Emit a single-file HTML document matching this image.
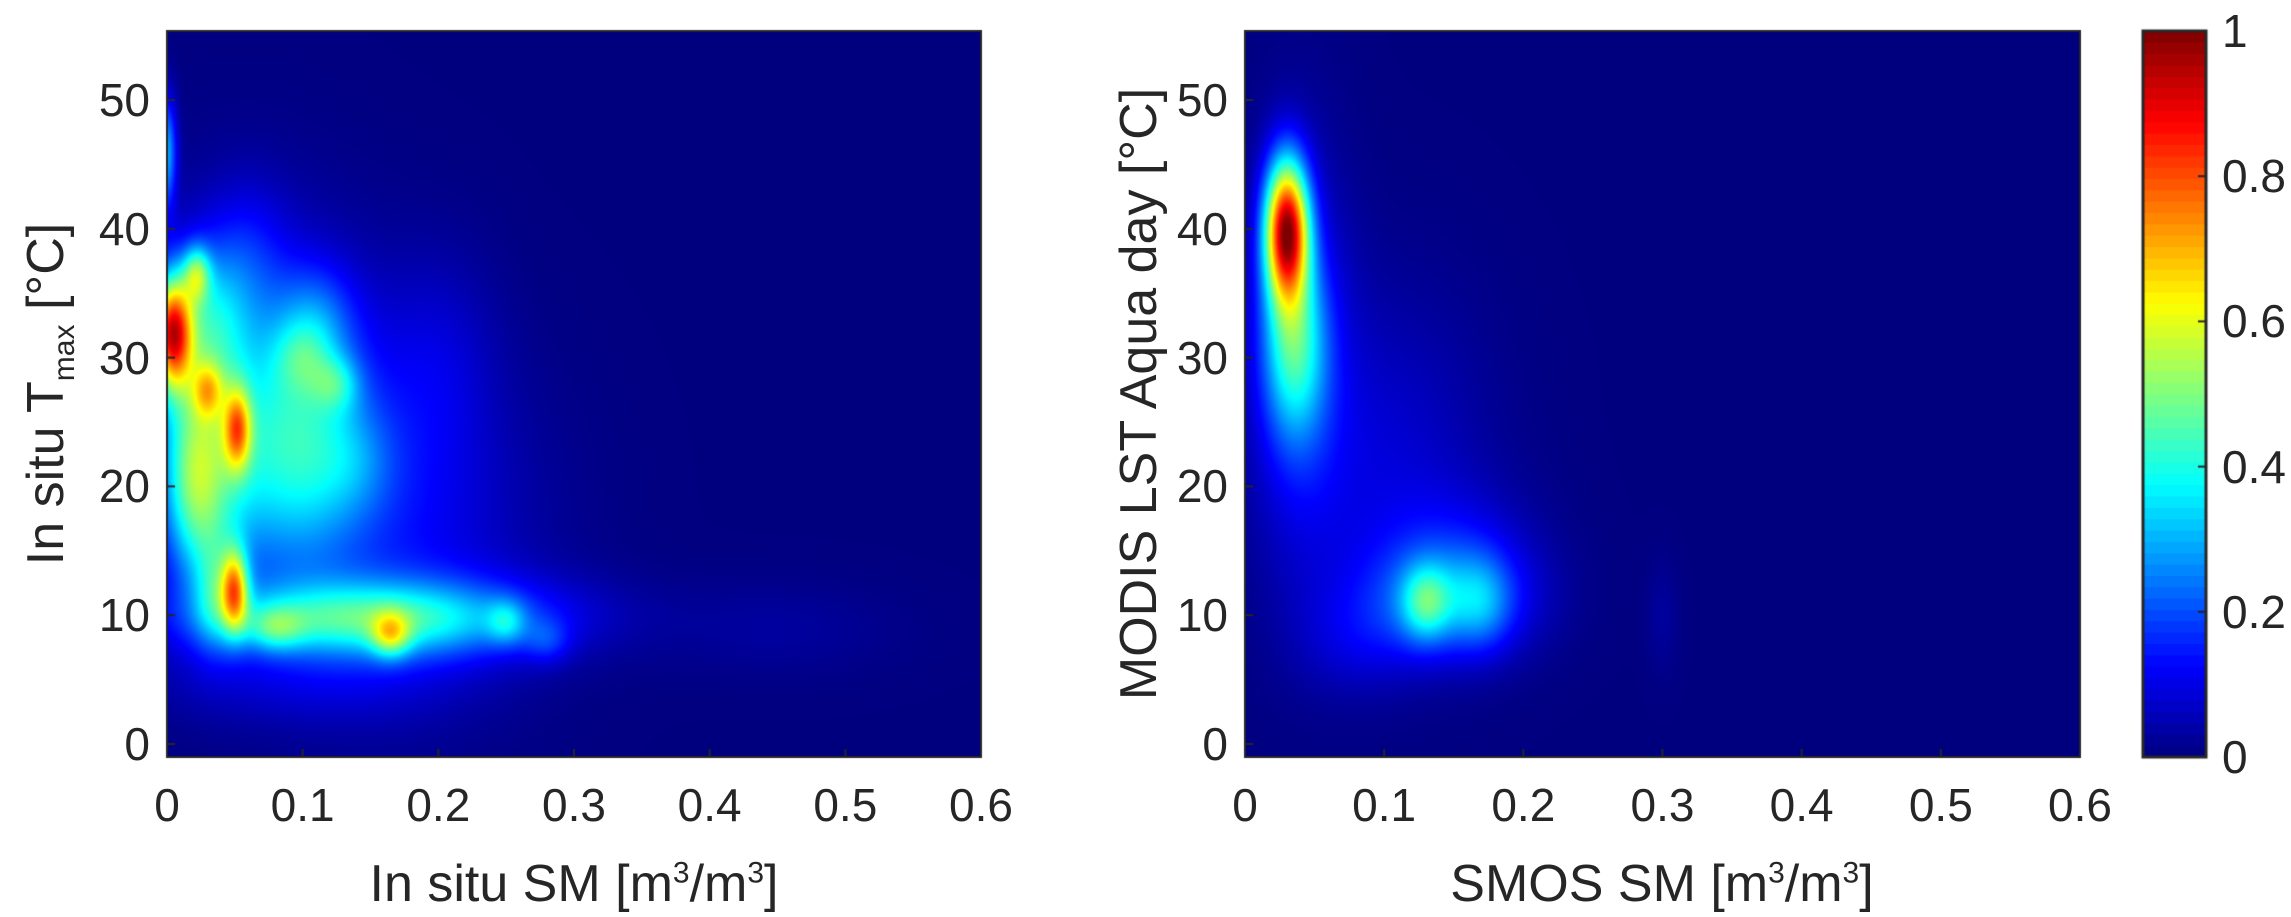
<!DOCTYPE html>
<html><head><meta charset="utf-8"><style>
html,body{margin:0;padding:0;background:#fff;}
body{width:2291px;height:917px;position:relative;overflow:hidden;font-family:"Liberation Sans",Arial,sans-serif;color:#262626;}
canvas{position:absolute;}
.t{position:absolute;font-size:46px;line-height:1;white-space:nowrap;}
.ttl{position:absolute;font-size:52px;line-height:1;white-space:nowrap;}
sup,sub{font-size:30px;}
</style></head><body>
<canvas id="c" width="2291" height="917"></canvas>
<div id="labels"></div>
<div class="ttl" style="left:574px;top:858px;transform:translateX(-50%);">In situ SM [m<sup>3</sup>/m<sup>3</sup>]</div>
<div class="ttl" style="left:1662px;top:858px;transform:translateX(-50%);">SMOS SM [m<sup>3</sup>/m<sup>3</sup>]</div>
<div class="ttl" style="left:50px;top:394px;transform:translate(-50%,-50%) rotate(-90deg);">In situ T<sub>max</sub> [°C]</div>
<div class="ttl" style="left:1139px;top:394px;transform:translate(-50%,-50%) rotate(-90deg);">MODIS LST Aqua day [°C]</div>
<script>
// data
const xTicks=[0,0.1,0.2,0.3,0.4,0.5,0.6];
const yTicks=[0,10,20,30,40,50];
const cTicks=[0,0.2,0.4,0.6,0.8,1];
// blobs: [x, y, sx, sy, amplitude]
const leftBlobs=[
[0.06,28,0.06,9,0.14],[0.16,17,0.07,9,0.12],[0.2,10,0.08,2.5,0.12],[0.45,9,0.06,2.5,0.03],
[0.12,10,0.09,2,0.14],[0.0,46,0.005,3,0.28],[0.004,32,0.01,3,0.72],[0.022,36.5,0.007,1.5,0.3],
[0.03,27.5,0.008,1.5,0.25],[0.052,24.5,0.007,2.2,0.4],[0.05,12,0.007,2.2,0.5],[0.165,8.5,0.01,1.2,0.28],
[0.125,28,0.012,1.5,0.15],[0.1,30,0.015,2,0.12],[0.09,20,0.035,6,0.1],[0.25,9.5,0.01,1.2,0.16],
[0.02,20,0.015,5,0.22],[0.08,9,0.015,1.2,0.18],[0.28,8,0.012,1.2,0.1],[0.035,12,0.01,3,0.18],
[0.2,30,0.03,6,0.06],[0.1,5,0.08,2.5,0.06],[0.14,22,0.02,3,0.08],[0.06,38,0.02,4,0.08],
[0.03,22,0.025,7,0.25],[0.03,33,0.02,4,0.2],[0.1,25,0.03,6,0.18],[0.11,33,0.02,3,0.12],[0.15,9.5,0.07,1.8,0.15]];
const rightBlobs=[
[0.03,40,0.011,3.8,0.88],[0.035,31,0.016,5,0.32],[0.04,30,0.025,11,0.12],[0.1,22,0.05,9,0.08],
[0.145,11,0.04,3,0.18],[0.13,11,0.012,2,0.22],[0.17,11,0.015,2.5,0.12],[0.15,14,0.04,4,0.1],[0.3,10,0.008,3,0.03],[0.08,8,0.03,3,0.06]];

const ctx=document.getElementById('c').getContext('2d');
const T=31,B=757;
const panels=[{L:167,R:981,blobs:leftBlobs,lab:'left',yl:150},{L:1245,R:2080,blobs:rightBlobs,lab:'right',yl:1228}];
const xmin=0,xmax=0.6;
const y0px=744, pxPerDeg=12.88;
function yS(v){return y0px-pxPerDeg*v;}
function jet(v){v=Math.max(0,Math.min(1,v));
 const r=Math.max(0,Math.min(1,Math.min(4*v-1.5,-4*v+4.5)));
 const g=Math.max(0,Math.min(1,Math.min(4*v-0.5,-4*v+3.5)));
 const b=Math.max(0,Math.min(1,Math.min(4*v+0.5,-4*v+2.5)));
 return [r*255|0,g*255|0,b*255|0];}
const lab=document.getElementById('labels');
function addLabel(txt,x,y,align,name){const d=document.createElement('div');d.className='t';d.textContent=txt;
 
 
 d.style.left=x+'px';d.style.top=y+'px';
 d.style.transform=align==='c'?'translate(-50%,-50%)':align==='r'?'translate(-100%,-50%)':'translate(0,-50%)';
 lab.appendChild(d);}
panels.forEach(p=>{
 const W=p.R-p.L,H=B-T;
 const xS=v=>p.L+(v-xmin)/(xmax-xmin)*W;
 const img=ctx.createImageData(W,H);
 for(let j=0;j<H;j++){const yv=(y0px-(T+j))/pxPerDeg;
  for(let i=0;i<W;i++){const xv=xmin+(i+0.5)/W*(xmax-xmin);let s=0;
   for(const b of p.blobs){const dx=(xv-b[0])/b[2],dy=(yv-b[1])/b[3];const e=dx*dx+dy*dy;if(e<20)s+=b[4]*Math.exp(-0.5*e);}
   const c=jet(s);const k=(j*W+i)*4;img.data[k]=c[0];img.data[k+1]=c[1];img.data[k+2]=c[2];img.data[k+3]=255;}}
 ctx.putImageData(img,p.L,T);
 ctx.strokeStyle='#262626';ctx.lineWidth=2;ctx.strokeRect(p.L,T,W,H);
 xTicks.forEach(v=>{const x=xS(v);ctx.beginPath();ctx.moveTo(x,B);ctx.lineTo(x,B-8);ctx.stroke();
  addLabel(String(v),x,805,'c',p.lab+'-x-tick-'+v);});
 yTicks.forEach(v=>{const y=yS(v);ctx.beginPath();ctx.moveTo(p.L,y);ctx.lineTo(p.L+8,y);ctx.stroke();
  addLabel(String(v),p.yl,y,'r',p.lab+'-y-tick-'+v);});
});
// colorbar
const cL=2143,cR=2206;const cS=v=>B-v*(B-T);
for(let k=0;k<64;k++){const c=jet((k+0.5)/64);ctx.fillStyle='rgb('+c.join(',')+')';
 ctx.fillRect(cL,cS((k+1)/64)-0.5,cR-cL,(B-T)/64+1);}
ctx.strokeStyle='#262626';ctx.lineWidth=3;ctx.strokeRect(cL,T,cR-cL,B-T);
ctx.lineWidth=2;
cTicks.forEach(v=>{const y=cS(v);ctx.beginPath();ctx.moveTo(cR,y);ctx.lineTo(cR-8,y);ctx.stroke();
 addLabel(String(v),2222,y,'l','colorbar-tick-'+v);});
</script>
</body></html>
